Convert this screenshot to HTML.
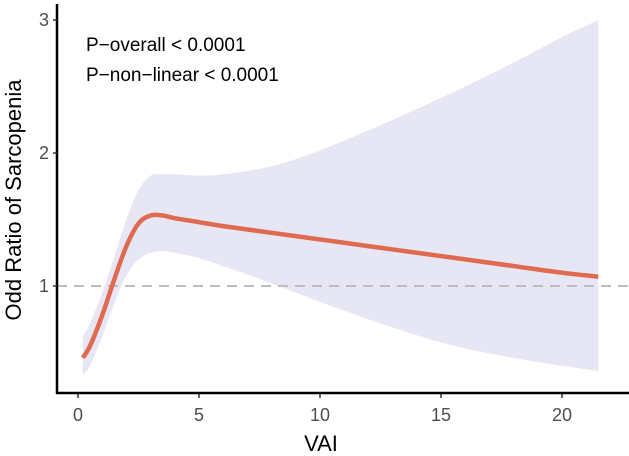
<!DOCTYPE html>
<html><head><meta charset="utf-8"><style>
html,body{margin:0;padding:0;background:#fff;}
svg{display:block;font-family:"Liberation Sans",Arial,sans-serif;}
</style></head><body>
<svg id="chart" width="629" height="456">
<g id="band"></g>
<line id="refline" stroke="#bdbdbd" stroke-width="2" stroke-dasharray="10,7"></line>
<g id="line"></g>
<line x1="57" y1="4" x2="57" y2="394" stroke="#000" stroke-width="2.5"/>
<line x1="56" y1="393" x2="629" y2="393" stroke="#000" stroke-width="2.5"/>
<g id="xticks"></g>
<g id="yticks"></g>
<text x="86" y="51" font-size="19" fill="#000">P−overall &lt; 0.0001</text>
<text x="86" y="81" font-size="19" fill="#000">P−non−linear &lt; 0.0001</text>
<text x="321" y="451" font-size="22" text-anchor="middle" fill="#000">VAI</text>
<text transform="translate(21,200) rotate(-90)" font-size="22" text-anchor="middle" fill="#000">Odd Ratio of Sarcopenia</text>
</svg>
<script>
const xs=[0.2,0.5,1,1.5,2,2.5,3,3.5,4,5,6,8,10,12,14,16,18,20,21.5];
const est=[0.46,0.55,0.78,1.05,1.30,1.47,1.53,1.53,1.51,1.48,1.45,1.40,1.35,1.30,1.25,1.20,1.15,1.10,1.07];
const upper=[0.62,0.72,0.95,1.22,1.50,1.72,1.83,1.84,1.84,1.83,1.84,1.90,2.02,2.17,2.33,2.50,2.68,2.87,3.0];
const lower=[0.33,0.40,0.62,0.87,1.08,1.20,1.25,1.26,1.25,1.21,1.15,1.02,0.88,0.75,0.63,0.53,0.46,0.40,0.36];
const xTicks=[0,5,10,15,20];
const yTicks=[1,2,3];
const refValue=1;
const NS="http://www.w3.org/2000/svg";
function sx(v){return 78+v*24.2;}
function sy(v){return 419-v*133;}
function mk(t,a,p){const e=document.createElementNS(NS,t);for(const k in a)e.setAttribute(k,a[k]);p.appendChild(e);return e;}
function smooth(pts,move){
 let d=(move?'M':'L')+pts[0][0]+','+pts[0][1];
 for(let i=0;i<pts.length-1;i++){
  const p0=pts[Math.max(0,i-1)],p1=pts[i],p2=pts[i+1],p3=pts[Math.min(pts.length-1,i+2)];
  const c1=[p1[0]+(p2[0]-p0[0])/6,p1[1]+(p2[1]-p0[1])/6];
  const c2=[p2[0]-(p3[0]-p1[0])/6,p2[1]-(p3[1]-p1[1])/6];
  d+=' C'+c1[0]+','+c1[1]+' '+c2[0]+','+c2[1]+' '+p2[0]+','+p2[1];
 }
 return d;
}
const band=document.getElementById('band');
const up=xs.map((x,i)=>[sx(x),sy(upper[i])]);
const lo=xs.map((x,i)=>[sx(x),sy(lower[i])]).reverse();
const bp=mk('path',{d:smooth(up,true)+' '+smooth(lo,false)+'Z',fill:'#e6e6f5'},band);


const rl=document.getElementById('refline');
rl.setAttribute('x1',57);rl.setAttribute('x2',629);rl.setAttribute('y1',sy(refValue));rl.setAttribute('y2',sy(refValue));
const lp=mk('path',{d:smooth(xs.map((x,i)=>[sx(x),sy(est[i])]),true),fill:'none',stroke:'#e06a50','stroke-width':4.5,'stroke-linejoin':'round'},document.getElementById('line'));


const xt=document.getElementById('xticks');
xTicks.forEach(v=>{
 const l=mk('line',{x1:sx(v),x2:sx(v),y1:394,y2:398,stroke:'#333','stroke-width':1.5},xt);
 
 
 const t=mk('text',{x:sx(v),y:421,'font-size':18,'text-anchor':'middle',fill:'#4d4d4d'},xt);t.textContent=v;
 
 
});
const yt=document.getElementById('yticks');
yTicks.forEach(v=>{
 const l=mk('line',{x1:53,x2:57,y1:sy(v),y2:sy(v),stroke:'#333','stroke-width':1.5},yt);
 
 
 const t=mk('text',{x:49,y:sy(v)+6,'font-size':18,'text-anchor':'end',fill:'#4d4d4d'},yt);t.textContent=v;
 
 
});
</script>
</body></html>
